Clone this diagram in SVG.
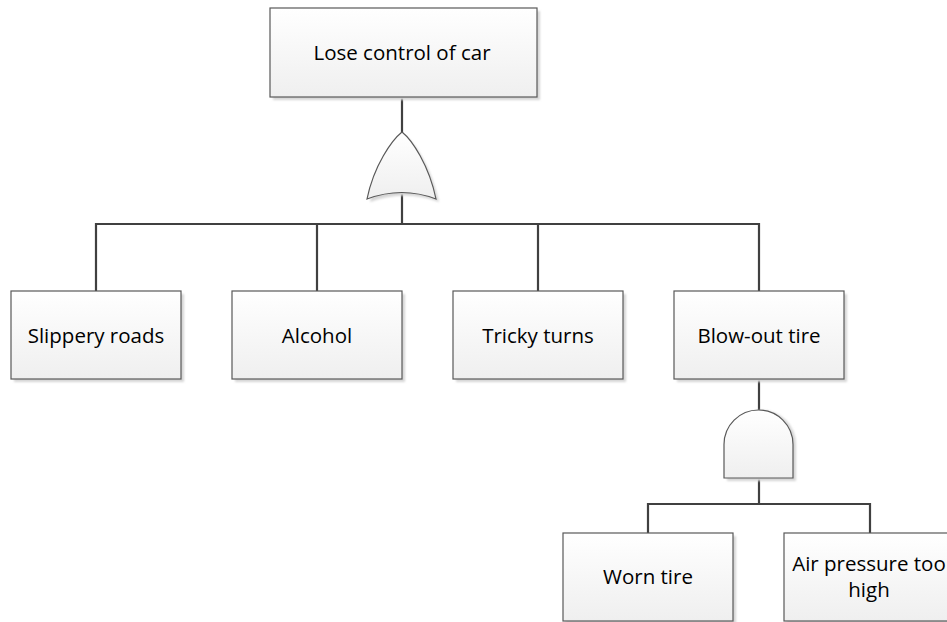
<svg xmlns="http://www.w3.org/2000/svg" width="947" height="622" viewBox="0 0 947 622">
  <defs>
    <linearGradient id="boxFill" x1="0" y1="0" x2="0" y2="1">
      <stop offset="0" stop-color="#ffffff"/>
      <stop offset="1" stop-color="#efefef"/>
    </linearGradient>
    <filter id="soft" x="-10%" y="-10%" width="130%" height="130%">
      <feGaussianBlur stdDeviation="1"/>
    </filter>
  </defs>
  <style>
    .shadow { fill: #d6d6d6; filter: url(#soft); }
    .box { fill: url(#boxFill); stroke: #595959; stroke-width: 1.2; }
    .gate { fill: url(#boxFill); stroke: #595959; stroke-width: 1.2; }
    .label { font-family: "Open Sans", "Liberation Sans", sans-serif; font-size: 20.5px; fill: #000; text-anchor: middle; }
    .wire { fill: none; stroke: #404040; stroke-width: 2.2; }
  </style>
  <rect width="947" height="622" fill="#ffffff"/>

  <!-- connectors -->
  <g id="connectors">
    <path class="wire" d="M402,97 V133"/>
    <path class="wire" d="M402,193 V224"/>
    <path class="wire" d="M96,291 V224 H759 V291"/>
    <path class="wire" d="M317,224 V291"/>
    <path class="wire" d="M538,224 V291"/>
    <path class="wire" d="M759,379 V410"/>
    <path class="wire" d="M759,478 V504"/>
    <path class="wire" d="M648,533 V504 H870 V533"/>
  </g>

  <!-- top event -->
  <g id="lose-control">
    <rect class="shadow" x="273" y="11" width="267" height="89"/>
    <rect class="box" x="270" y="8" width="267" height="89"/>
    <text class="label" x="402" y="60">Lose control of car</text>
  </g>

  <!-- OR gate -->
  <g id="or-gate">
    <path class="shadow" d="M405,135 C395,143 377,168 370,202 Q405,189 439,202 C432,168 415,143 405,135 Z"/>
    <path class="gate" d="M402,132 C392,140 374,165 367,199 Q402,186 436,199 C429,165 412,140 402,132 Z"/>
  </g>

  <g id="slippery-roads">
    <rect class="shadow" x="14" y="294" width="170" height="88"/>
    <rect class="box" x="11" y="291" width="170" height="88"/>
    <text class="label" x="96" y="343">Slippery roads</text>
  </g>

  <g id="alcohol">
    <rect class="shadow" x="235" y="294" width="170" height="88"/>
    <rect class="box" x="232" y="291" width="170" height="88"/>
    <text class="label" x="317" y="343">Alcohol</text>
  </g>

  <g id="tricky-turns">
    <rect class="shadow" x="456" y="294" width="170" height="88"/>
    <rect class="box" x="453" y="291" width="170" height="88"/>
    <text class="label" x="538" y="343">Tricky turns</text>
  </g>

  <g id="blow-out-tire">
    <rect class="shadow" x="677" y="294" width="170" height="88"/>
    <rect class="box" x="674" y="291" width="170" height="88"/>
    <text class="label" x="759" y="343">Blow-out tire</text>
  </g>

  <!-- AND gate -->
  <g id="and-gate">
    <path class="shadow" d="M727,481 V444.5 A34.5,34.5 0 0 1 796,444.5 V481 Z"/>
    <path class="gate" d="M724,478 V444.5 A34.5,34.5 0 0 1 793,444.5 V478 Z"/>
  </g>

  <g id="worn-tire">
    <rect class="shadow" x="566" y="536" width="170" height="88"/>
    <rect class="box" x="563" y="533" width="170" height="88"/>
    <text class="label" x="648" y="584">Worn tire</text>
  </g>

  <g id="air-pressure">
    <rect class="shadow" x="787" y="536" width="170" height="88"/>
    <rect class="box" x="784" y="533" width="170" height="88"/>
    <text class="label" x="869" y="571">Air pressure too</text>
    <text class="label" x="869" y="597">high</text>
  </g>
</svg>
